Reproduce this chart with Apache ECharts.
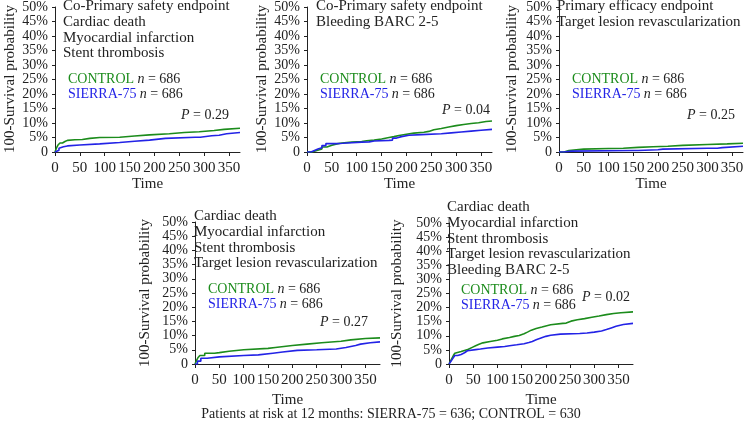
<!DOCTYPE html>
<html>
<head>
<meta charset="utf-8">
<script src="https://cdn.jsdelivr.net/npm/echarts@6/dist/echarts.min.js"></script>
<style>
  html, body { margin: 0; padding: 0; background: #fff; }
  #chart { width: 756px; height: 427px; }
</style>
</head>
<body>
<div id="chart"></div>
<script>
// cumulative event rate (%), by day
var p1CtlDays = [0, 3, 6, 10, 15, 20, 25, 40, 55, 70, 90, 130, 160, 190, 230, 260, 290, 320, 340, 372];
var p1Ctl     = [0, 1.4, 2.4, 3.1, 3.6, 4.0, 4.2, 4.3, 4.7, 5.0, 5.1, 5.5, 5.9, 6.3, 6.7, 7.0, 7.4, 7.8, 8.2, 8.3];
var p1SieDays = [0, 4, 8, 12, 17, 25, 50, 90, 130, 160, 190, 222, 282, 292, 315, 330, 345, 372];
var p1Sie     = [0, 0.6, 1.3, 1.8, 2.1, 2.4, 2.8, 3.3, 3.7, 4.1, 4.7, 5.1, 5.1, 5.6, 5.8, 6.3, 6.7, 6.8];

var p2CtlDays = [0, 10, 20, 30, 40, 50, 60, 70, 90, 100, 110, 120, 135, 150, 165, 175, 185, 200, 215, 235, 245, 255, 270, 285, 300, 315, 330, 345, 360, 372];
var p2Ctl     = [0, 0.5, 1.0, 1.7, 2.3, 2.8, 3.1, 3.4, 3.5, 3.6, 3.9, 4.1, 4.5, 5.0, 5.3, 5.7, 6.1, 6.5, 6.8, 7.1, 7.7, 8.1, 8.6, 9.1, 9.5, 9.8, 10.1, 10.5, 10.7, 10.7];
var p2SieDays = [0, 8, 15, 22, 30, 38, 60, 72, 110, 125, 135, 165, 172, 180, 190, 205, 230, 270, 290, 310, 330, 350, 372];
var p2Sie     = [0, 0.5, 1.0, 1.5, 2.2, 2.9, 3.0, 3.4, 3.5, 3.8, 4.0, 4.1, 4.8, 5.3, 5.8, 6.0, 6.3, 6.6, 6.9, 7.2, 7.5, 7.8, 7.8];

var p3CtlDays = [0, 10, 20, 50, 100, 130, 160, 190, 220, 250, 300, 340, 372];
var p3Ctl     = [0, 0.5, 1.0, 1.2, 1.3, 1.6, 1.8, 2.0, 2.3, 2.6, 2.8, 3.0, 3.0];
var p3SieDays = [0, 10, 25, 150, 160, 200, 210, 300, 320, 330, 372];
var p3Sie     = [0, 0.3, 0.5, 0.5, 0.8, 1.0, 1.3, 1.3, 1.5, 2.0, 2.0];

var p4CtlDays = [0, 3, 6, 10, 20, 40, 50, 70, 100, 150, 165, 200, 230, 260, 300, 320, 350, 380];
var p4Ctl     = [0, 1.2, 2.2, 3.0, 3.8, 4.0, 4.5, 5.0, 5.5, 5.8, 6.5, 7.0, 7.5, 8.0, 8.5, 9.0, 9.2, 9.2];
var p4SieDays = [0, 5, 12, 25, 50, 100, 130, 160, 180, 210, 250, 290, 310, 330, 340, 360, 380];
var p4Sie     = [0, 1.0, 2.0, 2.5, 3.0, 3.2, 3.8, 4.2, 4.8, 5.0, 5.3, 5.8, 6.5, 7.0, 7.5, 7.8, 7.8];

var p5CtlDays = [0, 3, 6, 9, 12, 16, 25, 32, 40, 48, 55, 62, 70, 85, 100, 110, 125, 135, 145, 155, 162, 170, 180, 192, 200, 210, 235, 242, 252, 265, 280, 295, 310, 325, 340, 355, 380];
var p5Ctl     = [0, 1.0, 2.0, 3.0, 3.8, 4.4, 4.8, 5.2, 5.9, 6.5, 7.0, 7.5, 8.0, 8.4, 8.9, 9.4, 9.8, 10.1, 10.7, 11.3, 12.0, 12.6, 13.1, 13.5, 13.9, 14.4, 14.5, 15.2, 15.7, 16.1, 16.6, 17.0, 17.5, 17.9, 18.2, 18.5, 18.5];
var p5SieDays = [0, 4, 8, 12, 18, 25, 32, 38, 55, 65, 80, 100, 115, 125, 140, 155, 165, 172, 180, 190, 200, 210, 230, 270, 285, 300, 315, 325, 335, 345, 360, 380];
var p5Sie     = [0, 1.0, 2.0, 3.0, 3.4, 4.0, 4.7, 5.1, 5.3, 5.7, 6.0, 6.2, 6.5, 6.8, 7.2, 7.6, 8.0, 8.6, 9.2, 9.8, 10.2, 10.6, 10.8, 11.0, 11.3, 11.7, 12.2, 12.8, 13.4, 14.0, 14.4, 14.4];

var yTicks = [0, 5, 10, 15, 20, 25, 30, 35, 40, 45, 50];
var xTicks = [0, 50, 100, 150, 200, 250, 300, 350];

var pValues = ['0.29', '0.04', '0.25', '0.27', '0.02'];
var captions = [
  ['Co-Primary safety endpoint', 'Cardiac death', 'Myocardial infarction', 'Stent thrombosis'],
  ['Co-Primary safety endpoint', 'Bleeding BARC 2-5'],
  ['Primary efficacy endpoint', 'Target lesion revascularization'],
  ['Cardiac death', 'Myocardial infarction', 'Stent thrombosis', 'Target lesion revascularization'],
  ['Cardiac death', 'Myocardial infarction', 'Stent thrombosis', 'Target lesion revascularization', 'Bleeding BARC 2-5']
];
var footer = 'Patients at risk at 12 months: SIERRA-75 = 636; CONTROL = 630';

var GREEN = '#1c8c1c';
var BLUE = '#2323e6';
var FONT = 'Liberation Serif';
var INK = '#222';

// plot boxes and text anchors (pixels)
var panels = [
  { left: 55,  top: 6,   width: 185, height: 146, xmax: 372, cap: [63, 6],    leg: [68, 79],   p: [229, 115], yt: 10,  xt: 184 },
  { left: 307, top: 6,   width: 185, height: 146, xmax: 372, cap: [316, 6],   leg: [320, 79],  p: [490, 110], yt: 262, xt: 184 },
  { left: 559, top: 6,   width: 184, height: 146, xmax: 372, cap: [557, 6],   leg: [572, 79],  p: [735, 115], yt: 512, xt: 184 },
  { left: 195, top: 222, width: 185, height: 142, xmax: 380, cap: [194, 216], leg: [208, 289], p: [368, 322], yt: 145, xt: 400 },
  { left: 449, top: 223, width: 184, height: 141, xmax: 380, cap: [447, 207], leg: [461, 290], p: [630, 297], yt: 397, xt: 400 }
];

var curves = [
  [p1CtlDays, p1Ctl, p1SieDays, p1Sie],
  [p2CtlDays, p2Ctl, p2SieDays, p2Sie],
  [p3CtlDays, p3Ctl, p3SieDays, p3Sie],
  [p4CtlDays, p4Ctl, p4SieDays, p4Sie],
  [p5CtlDays, p5Ctl, p5SieDays, p5Sie]
];

function pairs(xs, ys) {
  var out = [];
  for (var i = 0; i < xs.length; i++) out.push([xs[i], ys[i]]);
  return out;
}

function label(x, y, text, extra) {
  var st = { text: text, x: x, y: y, font: '15px "' + FONT + '"', fill: INK, verticalAlign: 'middle' };
  for (var k in extra) st[k] = extra[k];
  return { type: 'text', style: st, z: 10 };
}

var rich = {
  g: { fontFamily: FONT, fontSize: 14, fill: GREEN },
  b: { fontFamily: FONT, fontSize: 14, fill: BLUE },
  i: { fontFamily: FONT, fontSize: 14, fontStyle: 'italic', fill: INK },
  t: { fontFamily: FONT, fontSize: 14, fill: INK }
};

var grids = [], xAxes = [], yAxes = [], series = [], graphics = [];

panels.forEach(function (pn, i) {
  grids.push({ left: pn.left, top: pn.top, width: pn.width, height: pn.height });
  xAxes.push({
    type: 'value', gridIndex: i, min: 0, max: pn.xmax, offset: 5,
    axisLine: { show: true, lineStyle: { color: INK, width: 1 } },
    axisTick: { show: true, length: 4, customValues: xTicks, lineStyle: { color: INK } },
    axisLabel: { customValues: xTicks, margin: 4, fontFamily: FONT, fontSize: 15, color: INK,
                 showMinLabel: true, showMaxLabel: true, hideOverlap: false },
    splitLine: { show: false }
  });
  yAxes.push({
    type: 'value', gridIndex: i, min: 0, max: 50, offset: 4,
    axisLine: { show: true, lineStyle: { color: INK, width: 1 } },
    axisTick: { show: true, length: 3, customValues: yTicks, lineStyle: { color: INK } },
    axisLabel: {
      customValues: yTicks, margin: 3, fontFamily: FONT, fontSize: 14, color: INK,
      showMinLabel: true, showMaxLabel: true, hideOverlap: false,
      formatter: function (v) { return v === 0 ? '0' : v + '%'; }
    },
    splitLine: { show: false }
  });

  var c = curves[i];
  series.push({
    type: 'line', xAxisIndex: i, yAxisIndex: i, step: 'end', showSymbol: false,
    lineStyle: { color: GREEN, width: 1.6 }, data: pairs(c[0], c[1]), z: 3
  });
  series.push({
    type: 'line', xAxisIndex: i, yAxisIndex: i, step: 'end', showSymbol: false,
    lineStyle: { color: BLUE, width: 1.6 }, data: pairs(c[2], c[3]), z: 4
  });

  captions[i].forEach(function (line, k) {
    graphics.push(label(pn.cap[0], pn.cap[1] + k * 15.8, line));
  });

  graphics.push({ type: 'text', z: 10, style: {
    x: pn.leg[0], y: pn.leg[1], verticalAlign: 'middle', text: '{g|CONTROL} {i|n}{t| = 686}', rich: rich } });
  graphics.push({ type: 'text', z: 10, style: {
    x: pn.leg[0], y: pn.leg[1] + 15, verticalAlign: 'middle', text: '{b|SIERRA-75} {i|n}{t| = 686}', rich: rich } });
  graphics.push({ type: 'text', z: 10, style: {
    x: pn.p[0], y: pn.p[1], align: 'right', verticalAlign: 'middle', text: '{i|P}{t| = ' + pValues[i] + '}', rich: rich } });

  // axis titles
  graphics.push(label(pn.left + pn.width / 2, pn.xt, 'Time', { align: 'center' }));
  graphics.push({
    type: 'text', x: pn.yt, y: pn.top + pn.height / 2, rotation: Math.PI / 2, z: 10,
    style: { text: '100-Survival probability', x: 0, y: 0, align: 'center', verticalAlign: 'middle',
             font: '15px "' + FONT + '"', fill: INK }
  });
});

graphics.push(label(391, 414, footer, { align: 'center', font: '14px "' + FONT + '"' }));

var chart = echarts.init(document.getElementById('chart'), null, { renderer: 'canvas' });
chart.setOption({
  animation: false,
  backgroundColor: '#fff',
  grid: grids,
  xAxis: xAxes,
  yAxis: yAxes,
  series: series,
  graphic: graphics
});
</script>
</body>
</html>
